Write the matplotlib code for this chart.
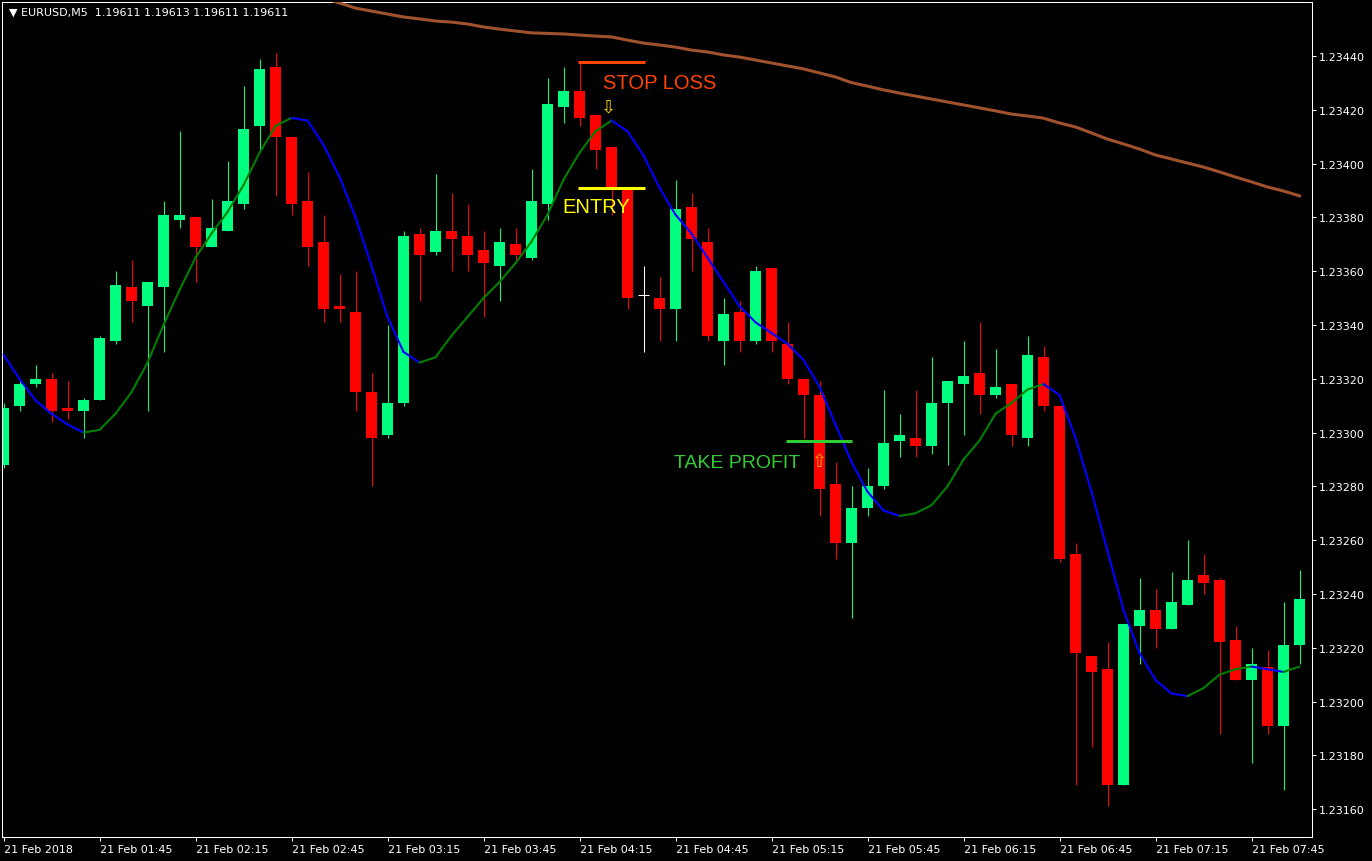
import numpy as np
import matplotlib
matplotlib.use('Agg')
import matplotlib.pyplot as plt
from matplotlib.collections import LineCollection

# EURUSD M5 bars, 21 Feb 2018 01:15 .. 07:45
opens = [1.23288, 1.23310, 1.23318, 1.23320, 1.23309, 1.23308, 1.23312, 1.23334, 1.23354, 1.23347,
         1.23354, 1.23379, 1.23380, 1.23369, 1.23375, 1.23385, 1.23414, 1.23436, 1.23410, 1.23386,
         1.23371, 1.23347, 1.23345, 1.23315, 1.23299, 1.23311, 1.23374, 1.23367, 1.23375, 1.23373,
         1.23368, 1.23362, 1.23370, 1.23365, 1.23385, 1.23421, 1.23427, 1.23418, 1.23406, 1.23390,
         1.23351, 1.23350, 1.23346, 1.23384, 1.23371, 1.23334, 1.23345, 1.23334, 1.23361, 1.23333,
         1.23320, 1.23314, 1.23281, 1.23259, 1.23272, 1.23280, 1.23297, 1.23298, 1.23295, 1.23311,
         1.23318, 1.23322, 1.23314, 1.23318, 1.23298, 1.23328, 1.23310, 1.23255, 1.23217, 1.23212,
         1.23169, 1.23228, 1.23234, 1.23227, 1.23236, 1.23247, 1.23245, 1.23223, 1.23208, 1.23213,
         1.23191, 1.23221]
highs = [1.23311, 1.23319, 1.23325, 1.23322, 1.23319, 1.23313, 1.23336, 1.23360, 1.23364, 1.23356,
         1.23386, 1.23412, 1.23380, 1.23387, 1.23401, 1.23429, 1.23439, 1.23441, 1.23410, 1.23397,
         1.23381, 1.23359, 1.23360, 1.23322, 1.23340, 1.23375, 1.23376, 1.23396, 1.23389, 1.23385,
         1.23375, 1.23376, 1.23376, 1.23398, 1.23432, 1.23436, 1.23438, 1.23418, 1.23406, 1.23390,
         1.23362, 1.23358, 1.23394, 1.23389, 1.23376, 1.23350, 1.23349, 1.23362, 1.23361, 1.23341,
         1.23320, 1.23319, 1.23289, 1.23280, 1.23287, 1.23316, 1.23307, 1.23316, 1.23328, 1.23319,
         1.23334, 1.23341, 1.23331, 1.23318, 1.23336, 1.23332, 1.23310, 1.23259, 1.23217, 1.23222,
         1.23229, 1.23246, 1.23242, 1.23248, 1.23260, 1.23255, 1.23246, 1.23228, 1.23220, 1.23219,
         1.23237, 1.23249]
lows = [1.23287, 1.23308, 1.23317, 1.23304, 1.23305, 1.23298, 1.23312, 1.23333, 1.23341, 1.23308,
        1.23330, 1.23376, 1.23356, 1.23369, 1.23375, 1.23383, 1.23405, 1.23388, 1.23381, 1.23362,
        1.23341, 1.23341, 1.23308, 1.23280, 1.23298, 1.23310, 1.23349, 1.23366, 1.23360, 1.23360,
        1.23343, 1.23349, 1.23364, 1.23364, 1.23379, 1.23415, 1.23414, 1.23398, 1.23381, 1.23346,
        1.23330, 1.23334, 1.23334, 1.23360, 1.23334, 1.23325, 1.23330, 1.23333, 1.23330, 1.23318,
        1.23298, 1.23269, 1.23253, 1.23231, 1.23269, 1.23279, 1.23291, 1.23291, 1.23292, 1.23288,
        1.23299, 1.23307, 1.23313, 1.23295, 1.23295, 1.23308, 1.23252, 1.23169, 1.23183, 1.23161,
        1.23169, 1.23214, 1.23220, 1.23227, 1.23236, 1.23240, 1.23188, 1.23208, 1.23177, 1.23188,
        1.23167, 1.23214]
closes = [1.23309, 1.23318, 1.23320, 1.23308, 1.23308, 1.23312, 1.23335, 1.23355, 1.23349, 1.23356,
          1.23381, 1.23381, 1.23369, 1.23376, 1.23386, 1.23413, 1.23435, 1.23410, 1.23385, 1.23369,
          1.23346, 1.23346, 1.23315, 1.23298, 1.23311, 1.23373, 1.23366, 1.23375, 1.23372, 1.23366,
          1.23363, 1.23371, 1.23366, 1.23386, 1.23422, 1.23427, 1.23417, 1.23405, 1.23391, 1.23350,
          1.23351, 1.23346, 1.23383, 1.23372, 1.23336, 1.23344, 1.23334, 1.23360, 1.23334, 1.23320,
          1.23314, 1.23279, 1.23259, 1.23272, 1.23280, 1.23296, 1.23299, 1.23295, 1.23311, 1.23319,
          1.23321, 1.23314, 1.23317, 1.23299, 1.23329, 1.23310, 1.23253, 1.23218, 1.23211, 1.23169,
          1.23229, 1.23234, 1.23227, 1.23237, 1.23245, 1.23244, 1.23222, 1.23208, 1.23214, 1.23191,
          1.23221, 1.23238]

# slope-coloured fast MA (green rising / blue falling)
ma_fast = [1.23329, 1.23320, 1.23312, 1.23307, 1.23303, 1.23300, 1.23301, 1.23307, 1.23315, 1.23326,
           1.23340, 1.23353, 1.23365, 1.23374, 1.23382, 1.23392, 1.23404, 1.23414, 1.23417, 1.23416,
           1.23407, 1.23395, 1.23380, 1.23362, 1.23343, 1.23330, 1.23326, 1.23328, 1.23336, 1.23343,
           1.23350, 1.23356, 1.23363, 1.23371, 1.23381, 1.23394, 1.23404, 1.23412, 1.23416, 1.23412,
           1.23403, 1.23391, 1.23381, 1.23374, 1.23365, 1.23356, 1.23347, 1.23341, 1.23337, 1.23333,
           1.23327, 1.23317, 1.23303, 1.23289, 1.23278, 1.23271, 1.23269, 1.23270, 1.23273, 1.23280,
           1.23290, 1.23297, 1.23307, 1.23311, 1.23316, 1.23318, 1.23314, 1.23298, 1.23278, 1.23256,
           1.23234, 1.23218, 1.23208, 1.23203, 1.23202, 1.23205, 1.23210, 1.23212, 1.23213, 1.23212,
           1.23211, 1.23213]

# slow MA, visible from bar 20 on
slow_start = 20
ma_slow = [1.234616, 1.234597, 1.234578, 1.234567, 1.234556, 1.234545, 1.234538, 1.234530, 1.234526, 1.234519,
           1.234508, 1.234500, 1.234493, 1.234486, 1.234484, 1.234482, 1.234478, 1.234474, 1.234471, 1.234459,
           1.234448, 1.234441, 1.234433, 1.234422, 1.234415, 1.234404, 1.234396, 1.234385, 1.234374, 1.234363,
           1.234352, 1.234337, 1.234322, 1.234301, 1.234288, 1.234274, 1.234262, 1.234251, 1.234240, 1.234229,
           1.234218, 1.234207, 1.234196, 1.234184, 1.234177, 1.234169, 1.234151, 1.234136, 1.234114, 1.234091,
           1.234073, 1.234054, 1.234032, 1.234017, 1.234002, 1.233987, 1.233969, 1.233950, 1.233932, 1.233913,
           1.233898, 1.233880]

time_labels = ['21 Feb 2018', '21 Feb 01:45', '21 Feb 02:15', '21 Feb 02:45', '21 Feb 03:15',
               '21 Feb 03:45', '21 Feb 04:15', '21 Feb 04:45', '21 Feb 05:15', '21 Feb 05:45',
               '21 Feb 06:15', '21 Feb 06:45', '21 Feb 07:15', '21 Feb 07:45']
price_ticks = [1.23160, 1.23180, 1.23200, 1.23220, 1.23240, 1.23260, 1.23280,
               1.23300, 1.23320, 1.23340, 1.23360, 1.23380, 1.23400, 1.23420, 1.23440]

# trade levels
sl_price = 1.234378
entry_price = 1.233909
tp_price = 1.232969

BULL = '#00FF7F'
BEAR = '#FF0000'

o = np.array(opens); h = np.array(highs); l = np.array(lows); c = np.array(closes)
x = np.arange(len(o))

fig = plt.figure(figsize=(13.72, 8.62), dpi=100, facecolor='black')
ax = fig.add_axes([2 / 1372, 24 / 862, 1310 / 1372, 835 / 862], facecolor='black')

cols = [BULL if cc > oo else (BEAR if cc < oo else 'white') for oo, cc in zip(o, c)]
ax.vlines(x, l, h, colors=cols, linewidth=0.75, zorder=2)
body_lo = np.minimum(o, c)
body_hi = np.maximum(o, c)
ax.bar(x, body_hi - body_lo, bottom=body_lo, width=0.69, color=cols, linewidth=0, zorder=2)
doji = np.where(o == c)[0]
ax.hlines(o[doji], doji - 0.345, doji + 0.345, colors='white', linewidth=0.75, zorder=2)

# fast MA segments
mf = np.array(ma_fast)
segs = [[(i, mf[i]), (i + 1, mf[i + 1])] for i in range(len(mf) - 1)]
seg_cols = ['#008000' if mf[i + 1] >= mf[i] else '#0000FF' for i in range(len(mf) - 1)]
ax.add_collection(LineCollection(segs, colors=seg_cols, linewidths=1.5, capstyle='round', zorder=3))

# slow MA
ax.plot(np.arange(slow_start, slow_start + len(ma_slow)), ma_slow, color='#A0522D', lw=2.2, zorder=3)

# trade annotations
ax.hlines(sl_price, 35.9, 40.1, colors='#FF4500', lw=2.2, zorder=4)
ax.hlines(entry_price, 35.9, 40.1, colors='#FFFF00', lw=2.2, zorder=4)
ax.hlines(tp_price, 48.9, 53.0, colors='#32CD32', lw=2.2, zorder=4)
ax.text(37.45, 1.234300, 'STOP LOSS', color='#FF4500', fontsize=14.5, family='Liberation Sans',
        ha='left', va='center', zorder=5)
ax.text(34.9, 1.233839, 'ENTRY', color='#FFFF00', fontsize=14.5, family='Liberation Sans',
        ha='left', va='center', zorder=5)
ax.text(41.9, 1.232890, 'TAKE PROFIT', color='#32CD32', fontsize=14, family='Liberation Sans',
        ha='left', va='center', zorder=5)
ax.text(37.84, 1.234214, '\u21e9', color='#FFD700', fontsize=13, ha='center', va='center', zorder=5)
ax.text(50.97, 1.232894, '\u21e7', color='#FFB000', fontsize=13, ha='center', va='center', zorder=5)

ax.text(0.005, 0.988, '\u25bc EURUSD,M5  1.19611 1.19613 1.19611 1.19611', color='white', fontsize=8,
        transform=ax.transAxes, ha='left', va='center')

ax.set_xlim(-0.094, 81.78)
ax.set_ylim(1.2314963, 1.2346008)

for s in ax.spines.values():
    s.set_color('white')
    s.set_linewidth(0.75)

ax.yaxis.tick_right()
ax.set_yticks(price_ticks)
ax.set_yticklabels(['%.5f' % p for p in price_ticks])
ax.set_xticks(np.arange(0, len(time_labels) * 6, 6))
ax.set_xticklabels(time_labels, ha='left')
ax.tick_params(axis='both', colors='white', labelcolor='white', labelsize=8, length=3, width=0.75,
               direction='out')
ax.tick_params(axis='y', pad=2)
ax.tick_params(axis='x', pad=2)

fig.savefig('out.png', dpi=100, facecolor='black')
